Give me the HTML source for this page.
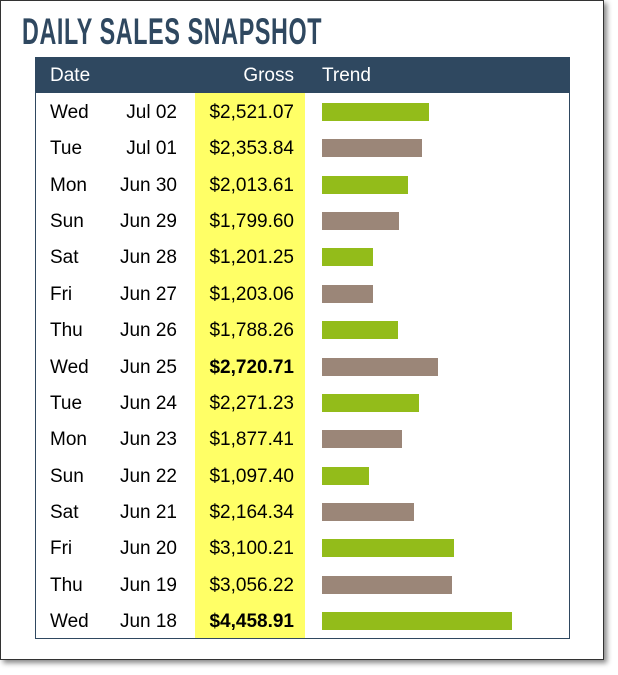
<!DOCTYPE html>
<html><head><style>
body{margin:0;width:618px;height:675px;background:#fff;position:relative;font-family:"Liberation Sans",Arial,sans-serif;overflow:hidden}
.frame{position:absolute;left:0;top:0;width:602px;height:658px;border:1px solid #333;box-shadow:3px 3px 5px #888;background:#fff}
.title{position:absolute;left:22px;top:11px;font-family:"Liberation Sans Narrow","Liberation Sans",sans-serif;font-weight:bold;font-size:37px;color:#2f4860;transform:scaleX(0.63);transform-origin:0 0;letter-spacing:1px;white-space:nowrap}
.tbl{position:absolute;left:35px;top:57px;width:533px;height:580px;border:1px solid #2f4860}
.hdr{position:absolute;left:0;top:0;width:533px;height:35px;background:#2f4860;color:#fff;font-size:18px}
.yel{position:absolute;left:159px;top:35px;width:110px;height:545px;background:#ffff66}
.t{position:absolute;font-size:19px;color:#000;line-height:20px}
.r{text-align:right}
.bar{position:absolute;height:18px}
.g{background:#93bc1a}.b{background:#9b8678}
</style></head><body>
<div class="frame"></div>
<div class="title">DAILY SALES SNAPSHOT</div>
<div class="tbl">
<div class="hdr">
<div class="t" style="color:#fff;left:14px;top:8px">Date</div>
<div class="t r" style="color:#fff;left:158px;width:100px;top:8px">Gross</div>
<div class="t" style="color:#fff;left:286px;top:8px">Trend</div>
</div>
<div class="yel"></div>
<div id="rows"></div>
</div>
<script>
var d=[["Wed","Jul 02","$2,521.07",2521.07],["Tue","Jul 01","$2,353.84",2353.84],["Mon","Jun 30","$2,013.61",2013.61],["Sun","Jun 29","$1,799.60",1799.6],["Sat","Jun 28","$1,201.25",1201.25],["Fri","Jun 27","$1,203.06",1203.06],["Thu","Jun 26","$1,788.26",1788.26],["Wed","Jun 25","$2,720.71",2720.71],["Tue","Jun 24","$2,271.23",2271.23],["Mon","Jun 23","$1,877.41",1877.41],["Sun","Jun 22","$1,097.40",1097.4],["Sat","Jun 21","$2,164.34",2164.34],["Fri","Jun 20","$3,100.21",3100.21],["Thu","Jun 19","$3,056.22",3056.22],["Wed","Jun 18","$4,458.91",4458.91]];
var h="";
d.forEach(function(r,i){var c=54+i*36.36;var bold=(i==7||i==14)?"font-weight:bold;":"";
h+='<div class="t" style="left:14px;top:'+(c-9)+'px">'+r[0]+'</div>';
h+='<div class="t r" style="left:60px;width:81px;top:'+(c-9)+'px">'+r[1]+'</div>';
h+='<div class="t r" style="left:160px;width:98px;top:'+(c-9)+'px;'+bold+'">'+r[2]+'</div>';
h+='<div class="bar '+(i%2?'b':'g')+'" style="left:286px;top:'+(c-9)+'px;width:'+(r[3]*0.04261).toFixed(1)+'px"></div>';});
document.getElementById("rows").innerHTML=h;
</script>
</body></html>
